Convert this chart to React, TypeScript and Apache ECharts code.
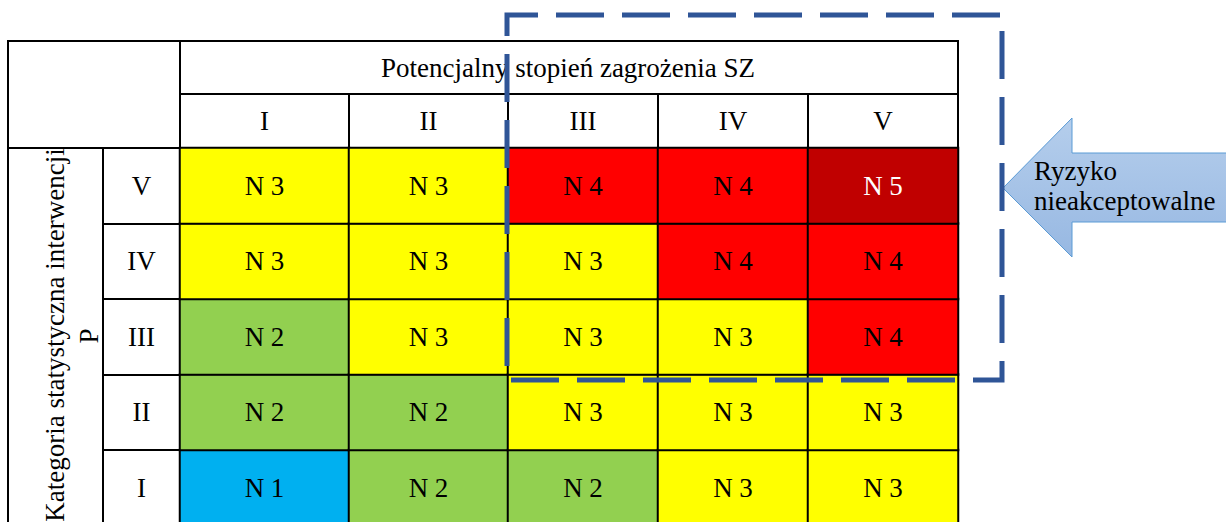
import React, { useEffect, useRef } from "react";
import * as echarts from "echarts";

// ---- data ----
const colCats = ["I", "II", "III", "IV", "V"]; // Potencjalny stopień zagrożenia SZ
const rowCats = ["I", "II", "III", "IV", "V"]; // Kategoria statystyczna interwencji P (bottom -> top)
const rowI = [1, 2, 2, 3, 3];
const rowII = [2, 2, 3, 3, 3];
const rowIII = [2, 3, 3, 3, 4];
const rowIV = [3, 3, 3, 4, 4];
const rowV = [3, 3, 4, 4, 5];
const levelRows = [rowI, rowII, rowIII, rowIV, rowV];
const levelColors = ["#00B0F0", "#92D050", "#FFFF00", "#FF0000", "#C00000"];
const headerTitle = "Potencjalny stopień zagrożenia SZ";
const sideTitle = "Kategoria statystyczna interwencji";
const sideSub = "P";
const arrowText = "Ryzyko\nnieakceptowalne";

// ---- layout ----
const FONT = "'Liberation Serif', 'Times New Roman', 'DejaVu Serif', serif";
const FS = 27;
const colGroups = [[0], [1], [2, 3, 4]];
const groupLeft = [180, 349, 508];
const groupWidth = [169, 159, 450];
const gridTop = 148;
const chartH = 530;
const gridBottom = chartH - 525.5;

export default function App() {
  const ref = useRef<HTMLDivElement>(null);
  useEffect(() => {
    if (!ref.current) return;
    const chart = echarts.init(ref.current, null, { renderer: "svg" });

    const grids = colGroups.map((_, g) => ({
      left: groupLeft[g],
      width: groupWidth[g],
      top: gridTop,
      bottom: gridBottom,
    }));

    const xAxes = colGroups.map((cols, g) => ({
      type: "category",
      gridIndex: g,
      position: "top",
      data: cols.map((c) => colCats[c]),
      axisLine: { show: true, lineStyle: { color: "#000", width: 2 } },
      axisTick: { show: true, length: 54, lineStyle: { color: "#000", width: 2 } },
      axisLabel: {
        margin: 27,
        verticalAlign: "middle",
        fontFamily: FONT,
        fontSize: FS,
        color: "#000",
      },
      splitLine: { show: false },
    }));

    const yAxes = colGroups.map((_, g) => ({
      type: "category",
      gridIndex: g,
      data: rowCats,
      show: g === 0,
      axisLine: { show: true, lineStyle: { color: "#000", width: 2 } },
      axisTick: { show: true, length: 77, lineStyle: { color: "#000", width: 2 } },
      axisLabel: {
        margin: 38.5,
        align: "center",
        fontFamily: FONT,
        fontSize: FS,
        color: "#000",
      },
      splitLine: { show: false },
    }));

    const series = colGroups.map((cols, g) => {
      const data: any[] = [];
      cols.forEach((c, ci) => {
        levelRows.forEach((row, ri) => {
          const v = row[c];
          data.push({
            value: [ci, ri, v],
            label: { color: v === 5 ? "#FFFFFF" : "#000000" },
          });
        });
      });
      return {
        type: "heatmap",
        xAxisIndex: g,
        yAxisIndex: g,
        data,
        itemStyle: { borderColor: "#000", borderWidth: 2 },
        label: {
          show: true,
          fontFamily: FONT,
          fontSize: FS,
          formatter: (p: any) => "N " + p.value[2],
        },
        emphasis: { disabled: true },
      };
    });

    const line = (x1: number, y1: number, x2: number, y2: number) => ({
      type: "line",
      shape: { x1, y1, x2, y2 },
      style: { stroke: "#000", lineWidth: 2 },
      z: 10,
    });

    const textStyle = { fontFamily: FONT, fontSize: FS, fill: "#000" };

    chart.setOption({
      animation: false,
      backgroundColor: "#fff",
      grid: grids,
      xAxis: xAxes,
      yAxis: yAxes,
      visualMap: {
        type: "piecewise",
        show: false,
        dimension: 2,
        seriesIndex: [0, 1, 2],
        pieces: levelColors.map((c, i) => ({ value: i + 1, color: c })),
      },
      series,
      graphic: {
        elements: [
          line(8, 41, 958, 41),
          line(8, 40, 8, chartH),
          line(958, 40, 958, 148),
          line(180, 41, 180, 148),
          line(180, 94, 958, 94),
          line(8, 148, 180, 148),
          line(103, 148, 103, chartH),
          {
            type: "text",
            x: 568,
            y: 68,
            style: { ...textStyle, text: headerTitle, align: "center", verticalAlign: "middle" },
            z: 10,
          },
          {
            type: "text",
            x: 55,
            y: 335,
            rotation: Math.PI / 2,
            style: { ...textStyle, text: sideTitle, align: "center", verticalAlign: "middle" },
            z: 10,
          },
          {
            type: "text",
            x: 89,
            y: 336,
            rotation: Math.PI / 2,
            style: { ...textStyle, text: sideSub, align: "center", verticalAlign: "middle" },
            z: 10,
          },
          {
            type: "polygon",
            shape: {
              points: [
                [1003, 188],
                [1072, 118],
                [1072, 153],
                [1232, 153],
                [1232, 222],
                [1072, 222],
                [1072, 257],
              ],
            },
            style: {
              fill: new echarts.graphic.LinearGradient(0, 0, 0, 1, [
                { offset: 0, color: "#B5CEEC" },
                { offset: 1, color: "#97B8E2" },
              ]),
              stroke: "#5B9BD5",
              lineWidth: 1,
            },
            z: 20,
          },
          {
            type: "text",
            x: 1034,
            y: 186,
            style: { ...textStyle, text: arrowText, align: "left", verticalAlign: "middle", lineHeight: 30 },
            z: 21,
          },
          {
            type: "polyline",
            shape: {
              points: [
                [507, 32],
                [507, 15],
                [1002, 15],
                [1002, 380],
                [507, 380],
                [507, 32],
              ],
            },
            style: { stroke: "#2F5597", lineWidth: 5, lineDash: [48, 18], fill: null, lineJoin: "miter" },
            z: 100,
          },
        ],
      },
    });
    return () => chart.dispose();
  }, []);
  return (
    <div
      ref={ref}
      style={{ position: "fixed", left: 0, top: 0, width: 1226, height: chartH, background: "#fff" }}
    />
  );
}
